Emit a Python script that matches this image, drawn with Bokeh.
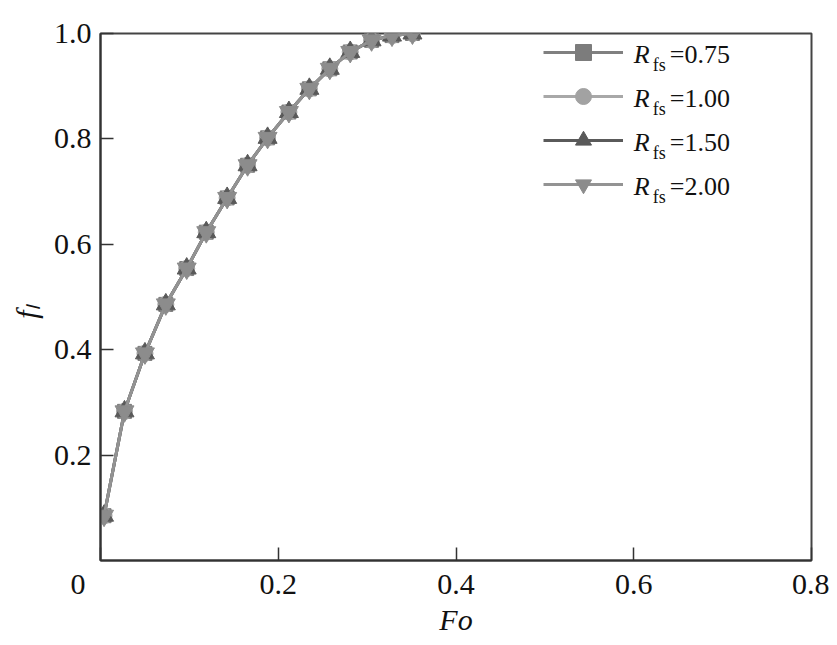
from bokeh.plotting import figure
from bokeh.models import (Legend, LegendItem, Label, FixedTicker, Range1d,
                          PrintfTickFormatter)
from bokeh.embed import file_html
from bokeh.resources import INLINE

# ---- data ----
fo = [0.004, 0.027, 0.050, 0.0735, 0.097, 0.119, 0.1425, 0.1655,
      0.188, 0.212, 0.235, 0.258, 0.281, 0.305, 0.328, 0.351]
fl_r075 = [0.085, 0.283, 0.393, 0.486, 0.554, 0.623, 0.688, 0.750,
           0.802, 0.851, 0.895, 0.933, 0.965, 0.987, 0.996, 1.000]
fl_r100 = [0.085, 0.283, 0.393, 0.486, 0.554, 0.623, 0.688, 0.750,
           0.802, 0.851, 0.895, 0.933, 0.965, 0.987, 0.996, 1.000]
fl_r150 = [0.085, 0.283, 0.393, 0.486, 0.554, 0.623, 0.688, 0.750,
           0.802, 0.851, 0.895, 0.933, 0.965, 0.987, 0.996, 1.000]
fl_r200 = [0.085, 0.283, 0.393, 0.486, 0.554, 0.623, 0.688, 0.750,
           0.802, 0.851, 0.895, 0.933, 0.965, 0.987, 0.996, 1.000]
rfs_labels = ["0.75", "1.00", "1.50", "2.00"]
x_ticks = [0, 0.2, 0.4, 0.6, 0.8]
y_ticks = [0.2, 0.4, 0.6, 0.8, 1.0]

FONT = "Liberation Serif"
AX = "#333333"
TXT = "#111111"
NB = "\u00a0"

p = figure(frame_width=711, frame_height=527,
           x_range=Range1d(0, 0.8), y_range=Range1d(0, 1.0),
           output_backend="svg", toolbar_location=None,
           min_border_left=100, min_border_right=18,
           min_border_top=33, min_border_bottom=80)
p.grid.visible = False
p.outline_line_color = "#444444"
p.outline_line_width = 2

for ax in (p.xaxis[0], p.yaxis[0]):
    ax.axis_line_color = AX
    ax.axis_line_width = 2
    ax.major_tick_line_color = AX
    ax.major_tick_line_width = 1.5
    ax.major_tick_in = 13
    ax.major_tick_out = 0
    ax.minor_tick_line_color = None
    ax.major_label_text_font = FONT
    ax.major_label_text_font_size = "30px"
    ax.major_label_text_color = TXT
    ax.axis_label_text_font = FONT
    ax.axis_label_text_font_size = "30px"
    ax.axis_label_text_font_style = "italic"
    ax.axis_label_text_color = TXT

p.xaxis.ticker = FixedTicker(ticks=x_ticks)
p.xaxis.formatter = PrintfTickFormatter(format="%.1f")
# corner "0" label sits left of the origin
p.xaxis.major_label_overrides = {0: "0" + NB * 6}
p.xaxis.major_label_standoff = 6
p.xaxis.axis_label = "Fo"
p.xaxis.axis_label_standoff = 0

p.yaxis.ticker = FixedTicker(ticks=y_ticks)
p.yaxis.formatter = PrintfTickFormatter(format="%.1f")
p.yaxis.major_label_standoff = 9
p.yaxis.axis_label = "f\u2097" + NB * 4
p.yaxis.axis_label_standoff = 8

series = [
    (fl_r075, "square", 14, "#7c7c7c", "#808080"),
    (fl_r100, "circle", 16, "#a2a2a2", "#a8a8a8"),
    (fl_r150, "triangle", 19, "#595959", "#5a5a5a"),
    (fl_r200, "inverted_triangle", 19, "#8c8c8c", "#939393"),
]
items = []
for vals, mk, sz, fill, lc in series:
    lr = p.line(fo, vals, line_color=lc, line_width=3)
    sr = p.scatter(fo, vals, marker=mk, size=sz, fill_color=fill, line_color=fill)
    items.append(LegendItem(label=" ", renderers=[lr, sr]))

legend = Legend(items=items, location=(443, 356), glyph_width=80, glyph_height=40,
                spacing=4, padding=0, margin=0, border_line_color=None,
                background_fill_alpha=0, label_standoff=4,
                label_text_font_size="10px")
p.add_layout(legend)

# legend texts: R_fs=value
for i, lab in enumerate(rfs_labels):
    dy = 44 * i
    p.add_layout(Label(x=0.6, y=1.0, x_offset=0, y_offset=-(21 + dy), text="R",
                       text_font=FONT, text_font_style="italic", text_font_size="26px",
                       text_align="left", text_baseline="alphabetic", text_color=TXT))
    p.add_layout(Label(x=0.6, y=1.0, x_offset=19, y_offset=-(31 + dy), text="fs",
                       text_font=FONT, text_font_size="18px",
                       text_align="left", text_baseline="alphabetic", text_color=TXT))
    p.add_layout(Label(x=0.6, y=1.0, x_offset=36, y_offset=-(21 + dy), text="=" + lab,
                       text_font=FONT, text_font_size="26px",
                       text_align="left", text_baseline="alphabetic", text_color=TXT))

open("out.html", "w").write(file_html(p, INLINE))
